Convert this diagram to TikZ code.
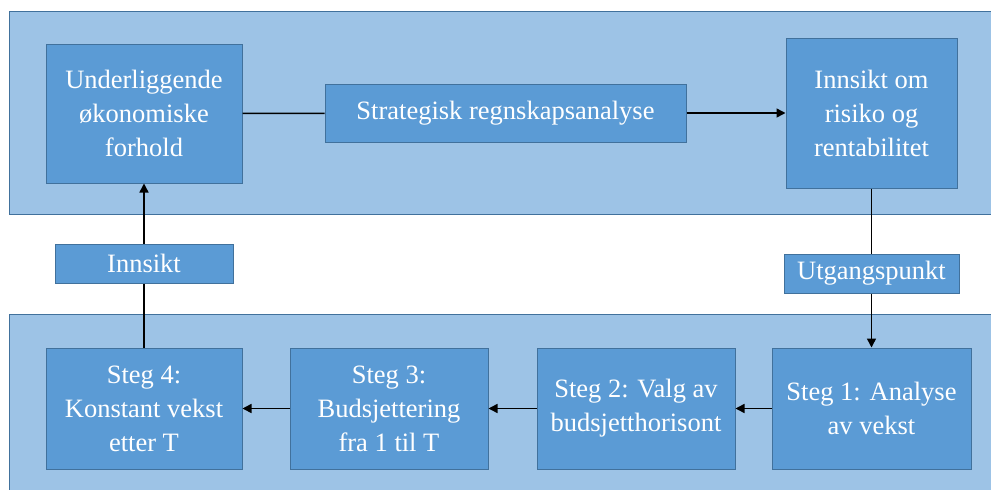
\documentclass[tikz,border=0pt]{standalone}
\usepackage{fontspec}
\setmainfont{Liberation Serif}
\usetikzlibrary{arrows.meta}
\definecolor{panelfill}{HTML}{9DC3E6}
\definecolor{boxfill}{HTML}{5B9BD5}
\definecolor{boxline}{HTML}{41719C}
\tikzset{
  panel/.style={fill=panelfill, draw=boxline, line width=1pt},
  blk/.style={fill=boxfill, draw=boxline, line width=1pt, text=white, align=center, inner sep=0pt,
    font=\fontsize{26.5}{34}\selectfont},
  conn/.style={line width=1.5pt, black},
  arr/.style={conn, -{Triangle[length=9pt,width=9pt]}}
}
\begin{document}
\begin{tikzpicture}[x=1pt,y=-1pt]
\useasboundingbox (0,0) rectangle (991,490);
\clip (0,0) rectangle (991,490);
\draw[panel] (9,11) rectangle (998,214);
\draw[panel] (9,314) rectangle (998,498);
\node[blk, minimum width=196pt, minimum height=139pt] (u) at (144,113.5) {Underliggende\\økonomiske\\forhold};
\node[blk, minimum width=361pt, minimum height=58pt] (s) at (505.5,113) {Strategisk regnskapsanalyse};
\node[blk, minimum width=171pt, minimum height=150pt] (r) at (871.5,113) {Innsikt om\\risiko og\\rentabilitet};
\node[blk, minimum width=175pt, minimum height=39pt] (p) at (871.5,273.5) {Utgangspunkt};
\node[blk, minimum width=199pt, minimum height=121pt] (s1) at (871.5,408.5) {Steg 1: Analyse\\av vekst};
\node[blk, minimum width=198pt, minimum height=121pt] (s2) at (636,408.5) {Steg 2: Valg av\\budsjetthorisont};
\node[blk, minimum width=198pt, minimum height=121pt] (s3) at (389,408.5) {Steg 3:\\Budsjettering\\fra 1 til T};
\node[blk, minimum width=196pt, minimum height=121pt] (s4) at (144,408.5) {Steg 4:\\Konstant vekst\\etter T};
\node[blk, minimum width=178pt, minimum height=39pt] (i) at (144,263.5) {Innsikt};
\draw[conn] (u) -- (s);
\draw[arr] (s) -- (r);
\draw[conn] (r) -- (p);
\draw[arr] (p) -- (s1);
\draw[arr] (s1) -- (s2);
\draw[arr] (s2) -- (s3);
\draw[arr] (s3) -- (s4);
\draw[conn] (s4) -- (i);
\draw[arr] (i) -- (u);
\end{tikzpicture}
\end{document}
